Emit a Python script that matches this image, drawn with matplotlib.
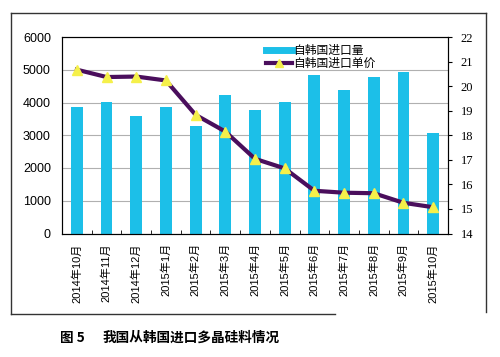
import matplotlib.pyplot as plt
import numpy as np
from matplotlib.lines import Line2D

plt.rcParams['font.family'] = ['Noto Sans CJK SC', 'DejaVu Sans']

# --- dados ---
meses = ['2014年10月', '2014年11月', '2014年12月', '2015年1月', '2015年2月',
         '2015年3月', '2015年4月', '2015年5月', '2015年6月', '2015年7月',
         '2015年8月', '2015年9月', '2015年10月']
volume = [3870, 4015, 3590, 3870, 3290, 4220, 3775, 4025, 4830, 4390, 4770, 4930, 3080]
preco = [20.67, 20.37, 20.39, 20.23, 18.83, 18.15, 17.04, 16.65, 15.74, 15.66, 15.64, 15.25, 15.07]

cor_barra = '#1cbfe8'
cor_linha = '#4a0e5c'
cor_marca = '#f5f04a'

fig = plt.figure(figsize=(5, 3.57), dpi=100)
ax = fig.add_axes([62 / 500, 1 - 233.5 / 357, 386 / 500, 196.5 / 357])
x = np.arange(len(meses))

ax.bar(x, volume, width=0.4, color=cor_barra, zorder=2)
ax.set_xlim(-0.5, len(meses) - 0.5)
ax.set_ylim(0, 6000)
ax.set_yticks(range(0, 6001, 1000))
ax.yaxis.grid(True, color='#b0b0b0', lw=0.8, zorder=0)
ax.set_axisbelow(True)
ax.tick_params(axis='y', length=0, labelsize=9, pad=8)
for lb in ax.get_yticklabels():
    lb.set_family(['Liberation Sans', 'DejaVu Sans'])
ax.set_xticks(x)
ax.set_xticklabels(meses, rotation=90, fontsize=8,
                   family=['Liberation Sans', 'Noto Sans CJK SC'])
ax.set_xticks(np.arange(-0.5, len(meses), 1), minor=True)
ax.tick_params(axis='x', which='major', length=0, pad=7)
ax.tick_params(axis='x', which='minor', direction='in', length=3)
for s in ax.spines.values():
    s.set_color('#333333')
    s.set_linewidth(0.8)

ax2 = ax.twinx()
ax2.plot(x, preco, color=cor_linha, lw=3, marker='^', markersize=7,
         markerfacecolor=cor_marca, markeredgecolor=cor_marca, zorder=3)
ax2.set_ylim(14, 22)
ax2.set_yticks(range(14, 23))
ax2.tick_params(axis='y', length=3, labelsize=9, pad=6)
for lb in ax2.get_yticklabels():
    lb.set_family(['Liberation Serif', 'DejaVu Serif'])
ax2.spines['right'].set_linewidth(0.8)

handles = [Line2D([0], [0], color=cor_barra, lw=5),
           Line2D([0], [0], color=cor_linha, lw=3, marker='^', markersize=6,
                  markerfacecolor=cor_marca, markeredgecolor=cor_marca)]
ax2.legend(handles, ['自韩国进口量', '自韩国进口单价'], loc='upper left',
           bbox_to_anchor=(0.5, 1.02), frameon=False, fontsize=8.5,
           handlelength=2.2, handletextpad=0.15, labelspacing=0.0)

# moldura externa
fc = '#333333'
fig.add_artist(Line2D([11 / 500, 486 / 500], [1 - 13 / 357, 1 - 13 / 357], color=fc, lw=1))
fig.add_artist(Line2D([11 / 500, 11 / 500], [1 - 13 / 357, 1 - 314 / 357], color=fc, lw=1))
fig.add_artist(Line2D([486 / 500, 486 / 500], [1 - 13 / 357, 1 - 312 / 357], color=fc, lw=1))
fig.add_artist(Line2D([11 / 500, 335 / 500], [1 - 314 / 357, 1 - 314 / 357], color=fc, lw=1))

fig.text(60 / 500, 1 - 338 / 357, '图 5', fontsize=9.8, fontweight='heavy', va='center')
fig.text(103 / 500, 1 - 338 / 357, '我国从韩国进口多晶硅料情况', fontsize=9.8,
         fontweight='heavy', va='center')

plt.savefig('out.png', dpi=100)
